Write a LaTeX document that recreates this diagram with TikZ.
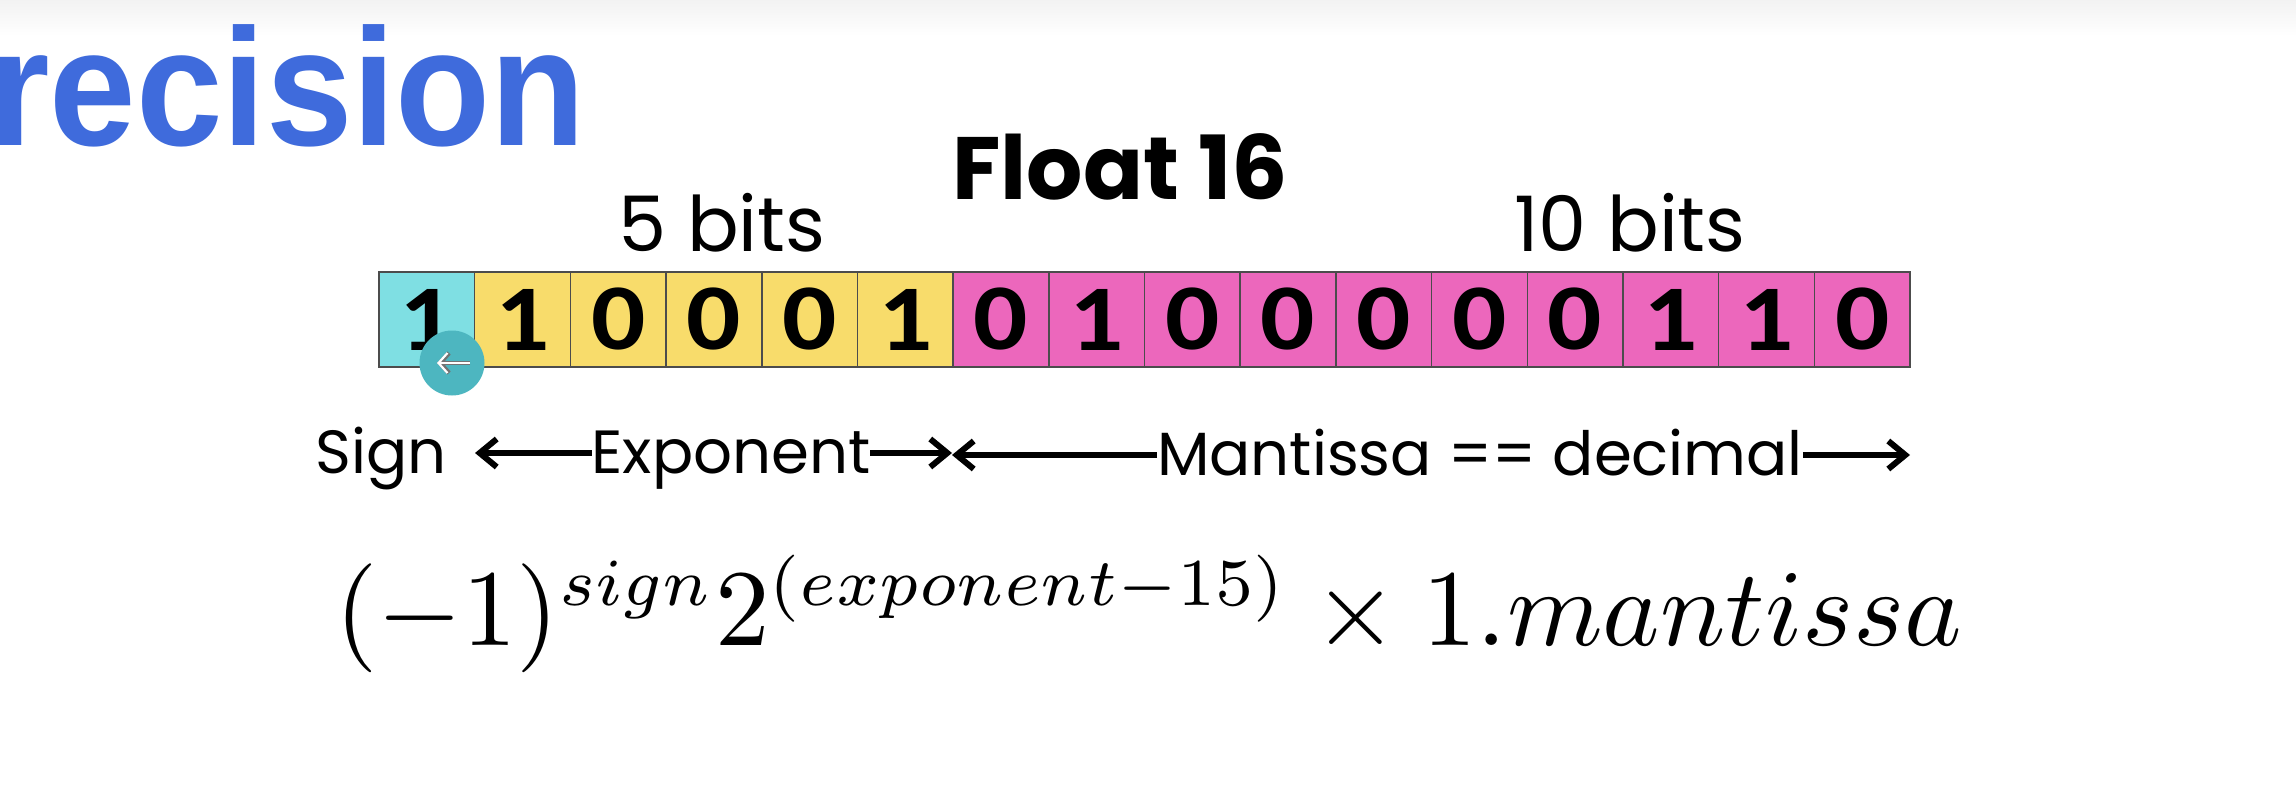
\documentclass[tikz,border=0pt]{standalone}
\usepackage{fontspec}
\usepackage{amsmath}
\usepackage{graphicx}
\usetikzlibrary{arrows.meta}
\newfontfamily\popp{Poppins}
\newfontfamily\carl{Carlito}
\newfontfamily\lib{Liberation Sans}
\definecolor{signc}{HTML}{7FDFE3}
\definecolor{expc}{HTML}{F8DC6B}
\definecolor{manc}{HTML}{EC67BC}
\definecolor{titlec}{HTML}{3F6BDC}
\definecolor{badgec}{HTML}{4DB6C0}
\newcommand{\supsc}[1]{\scalebox{.88}{$\scriptstyle #1$}}
\tikzset{
  cellbox/.style={draw=black!70,line width=1.6pt,minimum width=95.7pt,minimum height=95pt,inner sep=0pt,outer sep=0pt,anchor=north west,font=\carl\bfseries\fontsize{94}{94}\selectfont,text=black},
  lab/.style={inner sep=0pt,outer sep=0pt,anchor=base,text=black,font=\popp\fontsize{61}{61}\selectfont},
  bitlab/.style={inner sep=0pt,outer sep=0pt,anchor=base,text=black,font=\popp\fontsize{76.5}{76.5}\selectfont},
  arr/.style={draw=black,line width=6pt,-{Straight Barb[length=17pt,width=28pt,line width=6pt]}},
}
\begin{document}
\begin{tikzpicture}[x=1pt,y=-1pt]
\useasboundingbox (0,0) rectangle (2296,802);
\fill[white] (0,0) rectangle (2296,802);
\shade[top color=black!5,bottom color=white] (0,0) rectangle (2296,36);
\node[inner sep=0pt,anchor=base east,text=titlec,font=\lib\bfseries\fontsize{162}{162}\selectfont] (title) at (586,146) {\scalebox{.96}[1.03]{recision}};
\node[inner sep=0pt,anchor=base,text=black,font=\popp\bfseries\fontsize{88.5}{88.5}\selectfont] (float) at (1120,200) {Float 16};
\node[bitlab] (fivebits) at (722,252) {5 bits};
\node[bitlab] (tenbits) at (1630,252) {10 bits};
% cells
\foreach \d [count=\i from 0] in {1,1,0,0,0,1,0,1,0,0,0,0,0,1,1,0}{
  \pgfmathsetmacro{\cx}{379+95.69*\i}
  \ifnum\i=0 \def\cc{signc}\else\ifnum\i<6 \def\cc{expc}\else\def\cc{manc}\fi\fi
  \node[cellbox,fill=\cc] (c\i) at (\cx,272) {\scalebox{1.14}[1]{\d}};
}
% badge
\node[circle,fill=badgec,minimum size=65pt,inner sep=0pt] (badge) at (452,363) {};
\coordinate (bt) at (437,363);
\coordinate (bs) at (470,363);
\draw[black!55,line width=4.5pt,-{Straight Barb[length=9pt,width=20pt,line width=4.5pt]}] (bs) -- (bt);
\draw[white,line width=2.2pt,-{Straight Barb[length=9pt,width=20pt,line width=2.2pt]}] (bs) -- (bt);
% labels
\node[lab] (sign) at (381,473) {Sign};
\node[lab] (expo) at (731,473) {Exponent};
\node[lab] (mant) at (1480,475) {Mantissa == decimal};
\coordinate (a1) at (475,453);
\coordinate (a2) at (952,453);
\coordinate (a3) at (952,455);
\coordinate (a4) at (1910,455);
\draw[arr] (expo.west |- a1) -- (a1);
\draw[arr] (expo.east |- a2) -- (a2);
\draw[arr] (mant.west |- a3) -- (a3);
\draw[arr] (mant.east |- a4) -- (a4);
% formula
\node[inner sep=0pt,anchor=base west,scale=10.9,transform shape,text=black] (formula) at (333,645)
  {$(-1)^{\supsc{sign}}2^{\supsc{(exponent-15)}}\times 1.mantissa$};
\end{tikzpicture}
\end{document}
